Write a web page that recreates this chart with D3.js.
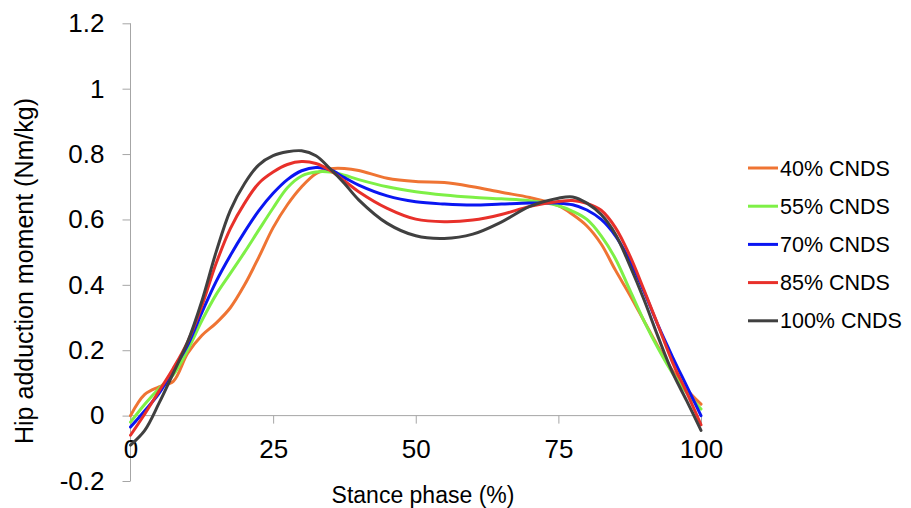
<!DOCTYPE html>
<html>
<head>
<meta charset="utf-8">
<script src="https://cdn.jsdelivr.net/npm/d3@7"></script>
<style>
  html, body { margin: 0; padding: 0; background: #fff; }
  svg { display: block; font-family: "Liberation Sans", Arial, Helvetica, sans-serif; }
</style>
</head>
<body>
<svg id="chart" width="911" height="508"></svg>
<script>
// Stance phase (%) sample points
const phase = [0, 2.5, 5, 7.5, 10, 12.5, 15, 17.5, 20, 22.5, 25, 27.5, 30, 32.5, 35, 37.5, 40,
  45, 50, 55, 60, 65, 70, 75, 77.5, 80, 82.5, 85, 87.5, 90, 92.5, 95, 97.5, 100];

// Hip adduction moment (Nm/kg), one list per condition
const cnds40 = [0.00, 0.065, 0.088, 0.105, 0.19, 0.245, 0.283, 0.33, 0.40, 0.485, 0.575, 0.645, 0.70, 0.74, 0.755, 0.756, 0.75,
  0.726, 0.716, 0.713, 0.70, 0.683, 0.667, 0.642, 0.615, 0.58, 0.525, 0.445, 0.37, 0.29, 0.21, 0.138, 0.08, 0.035];
const cnds55 = [-0.02, 0.035, 0.083, 0.125, 0.20, 0.29, 0.37, 0.435, 0.50, 0.568, 0.635, 0.697, 0.733, 0.745, 0.745, 0.735, 0.722,
  0.70, 0.685, 0.675, 0.668, 0.663, 0.657, 0.642, 0.625, 0.60, 0.55, 0.48, 0.385, 0.29, 0.205, 0.13, 0.07, 0.02];
const cnds70 = [-0.035, 0.015, 0.068, 0.14, 0.215, 0.315, 0.41, 0.49, 0.562, 0.627, 0.68, 0.722, 0.749, 0.759, 0.752, 0.728, 0.705,
  0.672, 0.654, 0.647, 0.644, 0.647, 0.65, 0.65, 0.645, 0.629, 0.60, 0.55, 0.475, 0.38, 0.275, 0.18, 0.09, 0.0];
const cnds85 = [-0.06, 0.005, 0.075, 0.145, 0.225, 0.335, 0.465, 0.572, 0.65, 0.711, 0.745, 0.768, 0.777, 0.771, 0.75, 0.718, 0.685,
  0.634, 0.601, 0.593, 0.598, 0.615, 0.64, 0.655, 0.658, 0.649, 0.628, 0.575, 0.49, 0.385, 0.275, 0.163, 0.07, -0.028];
const cnds100 = [-0.09, -0.045, 0.038, 0.13, 0.225, 0.35, 0.50, 0.628, 0.71, 0.767, 0.795, 0.807, 0.81, 0.795, 0.755, 0.71, 0.66,
  0.588, 0.55, 0.542, 0.555, 0.592, 0.64, 0.665, 0.669, 0.65, 0.615, 0.555, 0.46, 0.355, 0.24, 0.132, 0.045, -0.045];

const seriesNames = ['40% CNDS', '55% CNDS', '70% CNDS', '85% CNDS', '100% CNDS'];
const seriesValues = [cnds40, cnds55, cnds70, cnds85, cnds100];
const seriesColors = ['#EF7433', '#7EF046', '#0A16F2', '#E8302A', '#404040'];

const xTicks = [0, 25, 50, 75, 100];
const yTicks = [-0.2, 0, 0.2, 0.4, 0.6, 0.8, 1, 1.2];

const svg = d3.select('#chart');

const x = d3.scaleLinear().domain([0, 100]).range([130.5, 701]);
const y = d3.scaleLinear().domain([-0.2, 1.2]).range([481, 23.3]);

const axisColor = '#a6a6a6';
const fmt = d => d3.format('~g')(d).replace('\u2212', '-');

/* ---------- Y axis ---------- */
const yAxis = svg.append('g')
  .attr('transform', `translate(${x(0)},0)`)
  .call(d3.axisLeft(y).tickValues(yTicks).tickSize(8).tickPadding(18).tickFormat(fmt));
yAxis.select('.domain').attr('stroke', axisColor).attr('d', `M-0,${y(1.2)}V${y(-0.2)}`);
yAxis.selectAll('.tick line').attr('stroke', axisColor);
yAxis.selectAll('.tick text')
  .attr('fill', '#000')
  .attr('font-size', 26)
  .attr('font-family', '"Liberation Sans", Arial, sans-serif');

/* ---------- X axis (at y = 0) ---------- */
const xAxis = svg.append('g')
  .attr('transform', `translate(0,${y(0)})`)
  .call(d3.axisBottom(x).tickValues(xTicks).tickSize(8).tickPadding(16));
xAxis.select('.domain').attr('stroke', axisColor).attr('d', `M${x(0)},0H${x(100)}`);
xAxis.selectAll('.tick line').attr('stroke', axisColor);
xAxis.selectAll('.tick text')
  .attr('fill', '#000')
  .attr('font-size', 26)
  .attr('font-family', '"Liberation Sans", Arial, sans-serif');

/* ---------- Lines ---------- */
const line = d3.line()
  .x((d, i) => x(phase[i]))
  .y(d => y(d))
  .curve(d3.curveCatmullRom.alpha(0.5));

svg.append('g')
  .selectAll('path')
  .data(seriesValues)
  .join('path')
  .attr('d', line)
  .attr('fill', 'none')
  .attr('stroke', (d, i) => seriesColors[i])
  .attr('stroke-width', 3)
  .attr('stroke-linejoin', 'round')
  .attr('stroke-linecap', 'round');

/* ---------- Axis titles ---------- */
svg.append('text')
  .attr('transform', 'translate(33,271) rotate(-90)')
  .attr('text-anchor', 'middle')
  .attr('font-size', 25)
  .attr('fill', '#000')
  .text('Hip adduction moment (Nm/kg)');

svg.append('text')
  .attr('x', 423)
  .attr('y', 503)
  .attr('text-anchor', 'middle')
  .attr('font-size', 23)
  .attr('fill', '#000')
  .text('Stance phase (%)');

/* ---------- Legend ---------- */
const legend = svg.append('g')
  .selectAll('g')
  .data(seriesNames)
  .join('g')
  .attr('transform', (d, i) => `translate(748,${168 + i * 38.2})`);

legend.append('line')
  .attr('x1', 0).attr('x2', 30)
  .attr('stroke', (d, i) => seriesColors[i])
  .attr('stroke-width', 3);

legend.append('text')
  .attr('x', 32)
  .attr('y', 7.5)
  .attr('font-size', 21.5)
  .attr('fill', '#000')
  .text(d => d);
</script>
</body>
</html>
